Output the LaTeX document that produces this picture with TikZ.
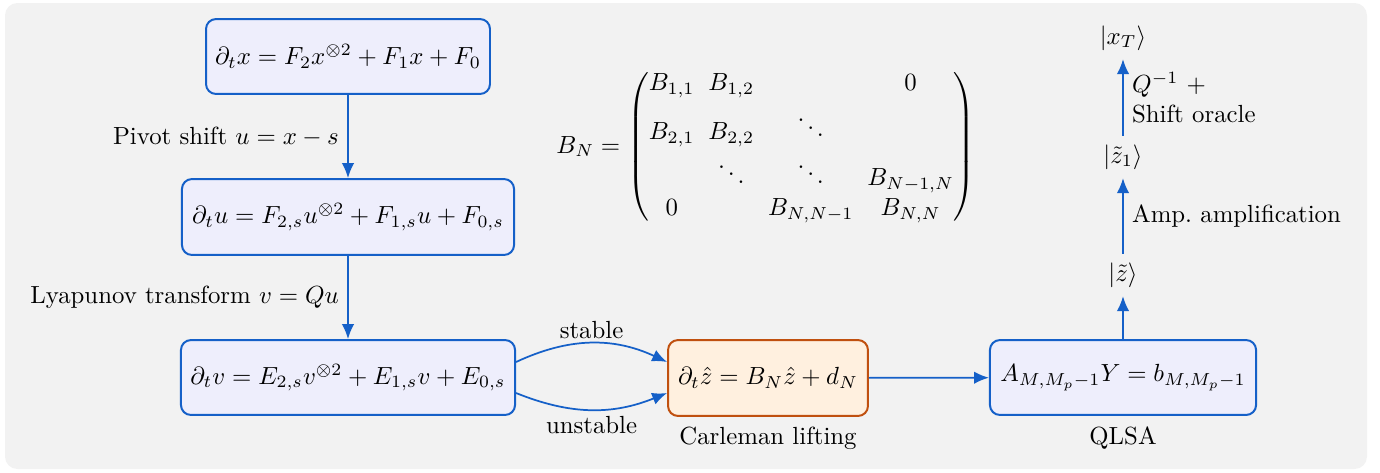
\documentclass[tikz,border=0pt]{standalone}
\usepackage{amsmath}
\usetikzlibrary{arrows.meta}
\definecolor{bgc}{HTML}{F2F2F2}
\definecolor{bluefill}{HTML}{EEEEFC}
\definecolor{blueline}{HTML}{1560C8}
\definecolor{orfill}{HTML}{FFF0DF}
\definecolor{orline}{HTML}{C0500F}
\tikzset{
  bluebox/.style={draw=blueline, fill=bluefill, line width=0.8pt, rounded corners=4pt, inner sep=2pt},
  orbox/.style={draw=orline, fill=orfill, line width=0.8pt, rounded corners=4pt, inner sep=2pt},
  flow/.style={draw=blueline, line width=0.7pt, -{Latex[length=6pt,width=5pt]}},
}
\begin{document}
\begin{tikzpicture}[x=0.4032pt,y=-0.4032pt]
\useasboundingbox (0,0) rectangle (1380,472);
\fill[bgc, rounded corners=5pt] (5,3) rectangle (1367,469);

\node[bluebox, minimum width=114.5pt, minimum height=30.2pt] (b1) at (348,56.5) {$\partial_t x = F_2 x^{\otimes 2} + F_1 x + F_0$};
\node[bluebox, minimum width=133.9pt, minimum height=30.6pt] (b2) at (348,217) {$\partial_t u = F_{2,s} u^{\otimes 2} + F_{1,s} u + F_{0,s}$};
\node[bluebox, minimum width=134.7pt, minimum height=30.2pt] (b3) at (348,377.5) {$\partial_t v = E_{2,s} v^{\otimes 2} + E_{1,s} v + E_{0,s}$};
\node[orbox, minimum width=80.6pt, minimum height=30.6pt] (b4) at (768,378) {$\partial_t \hat{z} = B_N \hat{z} + d_N$};
\node[bluebox, minimum width=107.3pt, minimum height=30.2pt] (b5) at (1123,377.5) {$A_{M,M_p-1} Y = b_{M,M_p-1}$};

\node (carl) at (768,438) {Carleman lifting};
\node (qlsa) at (1123,438) {QLSA};

\node (k1) at (1123,275) {$\lvert\tilde{z}\rangle$};
\node (k2) at (1123,157) {$\lvert\tilde{z}_1\rangle$};
\node (k3) at (1123,38) {$\lvert x_T\rangle$};

\node (mat) at (766,147) {\setlength{\arraycolsep}{2.8pt}$B_N = \begin{pmatrix}
B_{1,1} & B_{1,2} & & 0\\[1pt]
B_{2,1} & B_{2,2} & \ddots & \\
 & \ddots & \ddots & B_{N-1,N}\\
0 & & B_{N,N-1} & B_{N,N}
\end{pmatrix}$};

\draw[flow] (b1) -- node[midway,left] {Pivot shift $u = x - s$} (b2);
\draw[flow] (b2) -- node[midway,left] {Lyapunov transform $v = Qu$} (b3);
\draw[flow] (b3.east |- 0,362) to[bend left=25] node[midway,above,yshift=-2pt] {stable} (b4.west |- 0,362);
\draw[flow] (b3.east |- 0,393) to[bend right=22] node[midway,below,yshift=1pt] {unstable} (b4.west |- 0,393);
\draw[flow] (b4) -- (b5);
\draw[flow] (b5) -- (k1);
\draw[flow] (k1) -- node[midway,right] {Amp.\ amplification} (k2);
\draw[flow] (k2) -- node[midway,right,align=left] {$Q^{-1}$ +\\Shift oracle} (k3);
\end{tikzpicture}
\end{document}
